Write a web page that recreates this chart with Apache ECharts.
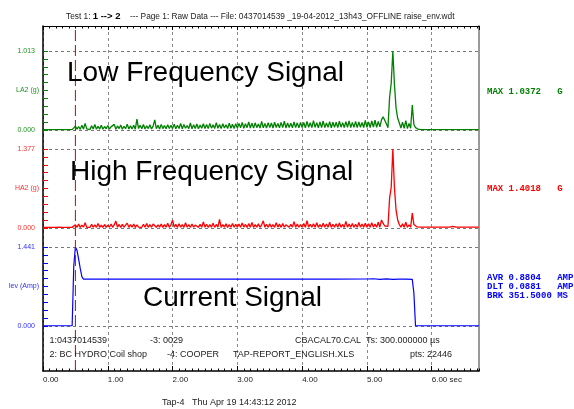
<!DOCTYPE html>
<html>
<head>
<meta charset="utf-8">
<script src="https://cdn.jsdelivr.net/npm/echarts@6/dist/echarts.min.js"></script>
<style>
  html, body { margin: 0; padding: 0; background: #fff; }
  #chart { width: 574px; height: 409px; }
</style>
</head>
<body>
<div id="chart"></div>
<script>
// time base
const DT = 0.025;      // sample step of the LA2 / HA2 traces (s)
const T_END = 6.73;    // right edge of the record (s)
const cursorT = 0.5;   // red cursor position (s)

// LA2 (g) - low frequency accelerometer, one value every DT
const la2 = [
  0.005,0.006,0.005,0.005,0.006,0.005,0.004,0.005,0.006,0.005,0.005,0.006,0.005,0.005,0.004,0.005,0.006,0.005,0.005,0.008,
  0.050,0.010,0.045,0.008,0.060,0.012,0.085,0.015,0.040,0.006,0.055,0.014,0.070,0.009,0.048,0.012,0.062,0.010,0.045,0.016,
  0.058,0.012,0.040,0.015,0.072,0.010,0.052,0.018,0.065,0.011,0.048,0.016,0.075,0.012,0.055,0.014,0.060,0.010,0.140,0.018,
  0.062,0.015,0.070,0.012,0.055,0.018,0.068,0.014,0.050,0.130,0.016,0.062,0.012,0.072,0.018,0.058,0.015,0.066,0.020,0.060,
  0.018,0.075,0.015,0.062,0.020,0.085,0.016,0.070,0.022,0.058,0.018,0.090,0.015,0.068,0.020,0.078,0.017,0.064,0.022,0.080,
  0.020,0.072,0.018,0.085,0.024,0.066,0.019,0.095,0.022,0.070,0.018,0.082,0.025,0.068,0.020,0.088,0.022,0.074,0.018,0.080,
  0.025,0.085,0.028,0.098,0.022,0.080,0.030,0.105,0.026,0.088,0.024,0.092,0.030,0.078,0.025,0.110,0.028,0.085,0.024,0.095,
  0.030,0.090,0.026,0.100,0.032,0.082,0.028,0.098,0.030,0.112,0.026,0.090,0.032,0.086,0.028,0.102,0.030,0.092,0.027,0.096,
  0.032,0.098,0.028,0.110,0.035,0.092,0.030,0.120,0.034,0.095,0.028,0.105,0.032,0.115,0.030,0.090,0.035,0.108,0.029,0.100,
  0.034,0.100,0.030,0.112,0.036,0.095,0.032,0.108,0.035,0.118,0.030,0.098,0.034,0.110,0.031,0.102,0.036,0.096,0.032,0.122,
  0.035,0.105,0.032,0.115,0.038,0.125,0.034,0.110,0.040,0.130,0.170,0.150,0.080,0.030,0.420,0.600,1.013,0.580,0.280,0.150,
  0.090,0.025,0.100,0.020,0.120,0.018,0.085,0.022,0.320,0.070,0.030,0.010,0.007,0.006,0.005,0.005,0.006,0.005,0.005,0.006,
  0.005,0.005,0.006,0.005,0.005,0.006,0.005,0.005,0.006,0.005,0.005,0.006,0.005,0.022,0.006,0.005,0.005,0.006,0.005,0.005,
  0.005,0.006,0.005,0.005,0.006,0.005,0.005,0.006,0.005,0.005
];

// HA2 (g) - high frequency accelerometer, one value every DT
const ha2 = [
  0.012,0.013,0.012,0.011,0.012,0.013,0.012,0.012,0.011,0.012,0.013,0.012,0.012,0.011,0.012,0.013,0.012,0.012,0.011,0.015,
  0.055,0.012,0.070,0.010,0.050,0.015,0.090,0.012,0.045,0.010,0.065,0.014,0.055,0.011,0.080,0.013,0.048,0.010,0.062,0.012,
  0.052,0.014,0.070,0.012,0.058,0.120,0.013,0.062,0.011,0.066,0.015,0.050,0.085,0.012,0.058,0.014,0.070,0.011,0.055,0.015,
  0.048,0.012,0.065,0.014,0.080,0.011,0.058,0.013,0.070,0.095,0.012,0.055,0.015,0.068,0.011,0.060,0.014,0.082,0.012,0.056,
  0.135,0.014,0.062,0.012,0.075,0.015,0.058,0.011,0.090,0.013,0.060,0.012,0.070,0.015,0.050,0.078,0.012,0.062,0.014,0.105,
  0.013,0.066,0.012,0.058,0.015,0.085,0.011,0.062,0.014,0.150,0.012,0.060,0.015,0.072,0.011,0.058,0.013,0.080,0.012,0.064,
  0.014,0.070,0.012,0.088,0.015,0.062,0.011,0.076,0.013,0.098,0.012,0.060,0.015,0.072,0.012,0.055,0.125,0.013,0.066,0.012,
  0.072,0.013,0.060,0.012,0.092,0.015,0.068,0.011,0.078,0.014,0.055,0.085,0.012,0.064,0.015,0.110,0.012,0.070,0.014,0.060,
  0.013,0.080,0.012,0.130,0.015,0.066,0.012,0.074,0.014,0.090,0.011,0.060,0.015,0.082,0.012,0.070,0.014,0.100,0.012,0.064,
  0.015,0.075,0.012,0.088,0.014,0.062,0.011,0.115,0.015,0.068,0.012,0.080,0.014,0.064,0.012,0.095,0.015,0.070,0.013,0.082,
  0.014,0.072,0.012,0.090,0.015,0.068,0.012,0.100,0.014,0.140,0.080,0.035,0.050,0.030,0.520,0.710,1.377,0.700,0.310,0.140,
  0.060,0.015,0.075,0.014,0.100,0.013,0.055,0.015,0.260,0.060,0.030,0.018,0.016,0.015,0.015,0.016,0.015,0.015,0.016,0.015,
  0.015,0.016,0.015,0.015,0.016,0.015,0.015,0.016,0.015,0.015,0.016,0.015,0.015,0.030,0.016,0.015,0.015,0.016,0.015,0.015,
  0.015,0.016,0.015,0.015,0.016,0.015,0.015,0.016,0.015,0.015
];

// Iev (Amp) - coil current, sampled where it changes
const ievT = [0, 0.45, 0.475, 0.5, 0.525, 0.55, 0.575, 0.6, 0.625, 1.5, 2.5, 3.5, 4.5, 5.0, 5.1, 5.2, 5.3, 5.4, 5.5, 5.6, 5.7, 5.725, 5.75, 6.3, 6.325, 6.35, 6.73];
const ievV = [0.003, 0.003, 1.10, 1.441, 1.380, 1.220, 1.050, 0.900, 0.856, 0.855, 0.857, 0.856, 0.855, 0.857, 0.862, 0.852, 0.858, 0.850, 0.856, 0.854, 0.852, 0.600, 0.004, 0.003, 0.020, 0.003, 0.003];

// panel scales
const panelMax = [1.013, 1.377, 1.441];
const panelNames = ['LA2 (g)', 'HA2 (g)', 'Iev (Amp)'];
const traceColors = ['#008000', '#ff0000', '#0000ff'];
const labelColors = ['#1f961f', '#ff3030', '#3030ff'];
const panelTops = [51, 149, 247];

const SANS = '"Liberation Sans", Arial, sans-serif';
const MONO = '"Liberation Mono", "Courier New", monospace';

const chart = echarts.init(document.getElementById('chart'), null, { renderer: 'canvas' });

const FRAME = { left: 43, right: 95, top: 26, bottom: 38, containLabel: false, outerBoundsMode: 'none' };

const grids = [Object.assign({}, FRAME), Object.assign({}, FRAME)];
panelTops.forEach((t) => grids.push({ left: 43, right: 95, top: t, height: 79, containLabel: false, outerBoundsMode: 'none' }));

const xAxes = [
  // frame bottom: labels, integer ticks, vertical dashed grid
  {
    gridIndex: 0, type: 'value', position: 'bottom', min: 0, max: T_END, interval: 1,
    axisLine: { onZero: false, lineStyle: { color: '#000', width: 1.5 } },
    axisTick: { inside: true, length: 5, lineStyle: { color: '#000' } },
    axisLabel: {
      showMaxLabel: false, align: 'left', margin: 5, fontSize: 8, color: '#222', fontFamily: SANS,
      formatter: (v) => (v === 6 ? '6.00 sec' : v.toFixed(2)),
    },
    splitLine: { show: true, lineStyle: { color: '#8a8a8a', type: [3, 3], width: 1 } },
  },
  {
    gridIndex: 0, type: 'value', position: 'top', min: 0, max: T_END, interval: 1,
    axisLine: { onZero: false, lineStyle: { color: '#000', width: 1 } },
    axisTick: { inside: true, length: 4, lineStyle: { color: '#000' } },
    axisLabel: { show: false },
    splitLine: { show: false },
  },
  // 0.1 s tick marks along top and bottom
  {
    gridIndex: 1, type: 'value', position: 'bottom', min: 0, max: T_END, interval: 0.1,
    axisLine: { show: false, onZero: false },
    axisTick: { inside: true, length: 2.5, lineStyle: { color: '#000' } },
    axisLabel: { show: false }, splitLine: { show: false },
  },
  {
    gridIndex: 1, type: 'value', position: 'top', min: 0, max: T_END, interval: 0.1,
    axisLine: { show: false, onZero: false },
    axisTick: { inside: true, length: 2.5, lineStyle: { color: '#000' } },
    axisLabel: { show: false }, splitLine: { show: false },
  },
];
panelTops.forEach((t, k) => xAxes.push({ gridIndex: k + 2, type: 'value', min: 0, max: T_END, show: false }));

const yAxes = [
  {
    gridIndex: 0, type: 'value', min: 0, max: 1, position: 'left',
    axisLine: { show: true, onZero: false, lineStyle: { color: '#000', width: 1.5 } },
    axisTick: { show: false }, axisLabel: { show: false }, splitLine: { show: false },
  },
  {
    gridIndex: 0, type: 'value', min: 0, max: 1, position: 'right',
    axisLine: { show: true, onZero: false, lineStyle: { color: '#9a9a9a', width: 2 } },
    axisTick: { show: false }, axisLabel: { show: false }, splitLine: { show: false },
  },
  { gridIndex: 1, type: 'value', min: 0, max: 1, show: false },
];
panelMax.forEach((m, k) => yAxes.push({
  gridIndex: k + 2, type: 'value', min: 0, max: m, interval: m,
  axisLine: { show: false, onZero: false },
  axisTick: { show: true, inside: true, length: 5, lineStyle: { color: traceColors[k] } },
  minorTick: { show: true, splitNumber: 10, length: 5, lineStyle: { color: traceColors[k], width: 1 } },
  axisLabel: { margin: 8, fontSize: 7, color: labelColors[k], fontFamily: SANS, formatter: (v) => v.toFixed(3) },
  name: panelNames[k], nameLocation: 'middle', nameRotate: 0, nameGap: 4, nameMoveOverlap: false,
  nameTextStyle: { color: labelColors[k], fontSize: 7, fontFamily: SANS },
  splitLine: { show: true, lineStyle: { color: '#777', type: [3, 3], width: 1 } },
}));

const series = [
  {
    type: 'line', xAxisIndex: 0, yAxisIndex: 0, symbol: 'none', silent: true, z: 5,
    data: [[cursorT, 0], [cursorT, 1]],
    lineStyle: { color: '#d00000', width: 1, type: [11, 4] },
  },
  {
    type: 'line', xAxisIndex: 4, yAxisIndex: 3, symbol: 'none', silent: true,
    data: la2.map((v, i) => [i * DT, v]),
    lineStyle: { color: traceColors[0], width: 1.3 },
  },
  {
    type: 'line', xAxisIndex: 5, yAxisIndex: 4, symbol: 'none', silent: true,
    data: ha2.map((v, i) => [i * DT, v]),
    lineStyle: { color: traceColors[1], width: 1.3 },
  },
  {
    type: 'line', xAxisIndex: 6, yAxisIndex: 5, symbol: 'none', silent: true,
    data: ievT.map((t, i) => [t, ievV[i]]),
    lineStyle: { color: traceColors[2], width: 1.2 },
  },
];

function txt(text, x, y, color, font, extra) {
  return {
    type: 'text', x: x, y: y, silent: true, z: 10,
    style: Object.assign({ text: text, fill: color, font: font, verticalAlign: 'middle' }, extra || {}),
  };
}

const bigFont = '28px ' + SANS;
const smallFont = '9px ' + SANS;
const monoFont = 'bold 9px ' + MONO;

const graphics = [
  {
    type: 'text', x: 66, y: 16.5, silent: true,
    style: {
      text: 'Test 1: {b|1 --> 2}', fill: '#222', fontSize: 8.3, fontFamily: SANS, verticalAlign: 'middle',
      rich: { b: { fontSize: 9.5, fontWeight: 'bold', fill: '#000', fontFamily: SANS } },
    },
  },
  txt('--- Page 1: Raw Data --- File: 0437014539 _19-04-2012_13h43_OFFLINE raise_env.wdt', 130, 16.5, '#222', '8.3px ' + SANS),

  txt('Low Frequency Signal', 67, 73, '#000', bigFont),
  txt('High Frequency Signal', 70, 172, '#000', bigFont),
  txt('Current Signal', 143, 298, '#000', bigFont),

  txt('MAX 1.0372   G', 487, 92, traceColors[0], monoFont),
  txt('MAX 1.4018   G', 487, 189, traceColors[1], monoFont),
  txt('AVR 0.8804   AMP', 487, 278, traceColors[2], monoFont),
  txt('DLT 0.0881   AMP', 487, 287, traceColors[2], monoFont),
  txt('BRK 351.5000 MS', 487, 296, traceColors[2], monoFont),

  txt('1:0437014539', 49.5, 341, '#222', smallFont),
  txt('-3: 0029', 150, 341, '#222', smallFont),
  txt('CBACAL70.CAL  Ts: 300.000000 µs', 295, 341, '#222', smallFont),
  txt('2: BC HYDRO Coil shop', 49.5, 355, '#222', smallFont),
  txt('-4: COOPER', 167, 355, '#222', smallFont),
  txt('TAP-REPORT_ENGLISH.XLS', 233, 355, '#222', smallFont),
  txt('pts: 22446', 410, 355, '#222', smallFont),

  txt('Tap-4   Thu Apr 19 14:43:12 2012', 162, 403, '#222', smallFont),
];

chart.setOption({
  animation: false,
  backgroundColor: '#fff',
  grid: grids,
  xAxis: xAxes,
  yAxis: yAxes,
  series: series,
  graphic: graphics,
});
</script>
</body>
</html>
